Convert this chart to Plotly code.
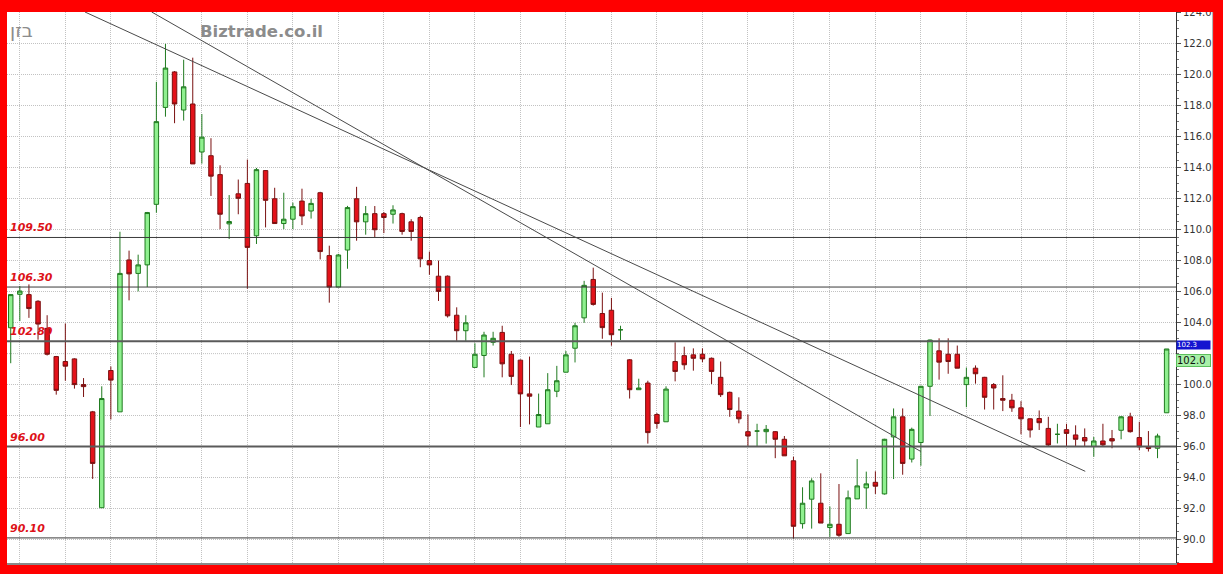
import plotly.graph_objects as go

# Daily bars, index 0 = oldest
idx = list(range(128))
opens = [103.67, 105.83, 105.81, 105.38, 103.63, 101.81, 101.49, 101.66, 100.00, 98.24,
         92.05, 100.91, 98.24, 108.05, 107.18, 107.73, 111.64, 117.90, 120.19, 117.73,
         118.12, 115.02, 114.78, 113.56, 110.38, 112.32, 112.99, 109.61, 113.82, 112.00,
         110.40, 110.68, 111.85, 111.21, 112.39, 108.33, 106.30, 108.69, 112.00, 110.51,
         111.04, 111.04, 111.00, 111.04, 110.51, 110.79, 108.01, 107.00, 107.00, 104.48,
         103.48, 101.11, 101.88, 102.73, 103.37, 101.96, 101.58, 99.40, 97.26, 97.47,
         99.57, 100.80, 102.35, 104.31, 106.79, 104.59, 104.80, 103.54, 101.60, 99.67,
         100.10, 98.07, 97.60, 101.49, 101.87, 101.92, 101.96, 101.70, 100.47, 99.50,
         98.29, 96.96, 97.00, 96.96, 96.96, 96.47, 95.08, 91.02, 92.60, 92.34,
         90.77, 90.98, 90.38, 92.62, 93.33, 93.69, 92.94, 96.62, 97.92, 95.19,
         96.26, 99.89, 102.18, 101.96, 101.96, 100.00, 101.06, 100.47, 100.00, 99.10,
         98.99, 98.50, 97.79, 97.81, 97.17, 96.79, 97.09, 96.75, 96.58, 96.00,
         96.36, 96.51, 97.05, 97.92, 96.58, 95.98, 95.89, 98.18]
highs = [105.85, 106.36, 106.47, 105.45, 104.48, 101.85, 103.95, 101.70, 100.42, 98.30,
         99.89, 101.17, 109.87, 108.65, 108.39, 111.15, 119.55, 122.00, 120.25, 120.98,
         121.11, 117.47, 115.91, 114.16, 112.24, 113.24, 114.53, 113.99, 113.85, 112.71,
         112.39, 111.75, 112.65, 112.00, 112.45, 108.97, 108.44, 111.54, 112.77, 111.53,
         111.53, 111.15, 111.58, 111.10, 110.68, 110.90, 108.59, 108.01, 107.05, 104.99,
         104.48, 102.67, 103.41, 103.41, 103.80, 102.17, 101.62, 101.81, 99.42, 100.74,
         101.21, 102.17, 103.99, 106.70, 107.55, 105.94, 105.60, 103.80, 101.65, 100.38,
         100.25, 98.17, 99.89, 102.73, 102.45, 102.34, 102.34, 101.75, 101.49, 99.55,
         99.18, 98.07, 97.47, 97.39, 97.00, 96.68, 95.34, 93.37, 93.95, 94.27,
         92.13, 93.58, 93.16, 95.19, 94.38, 94.40, 96.50, 98.46, 98.46, 97.22,
         99.92, 102.90, 102.99, 102.99, 102.52, 101.10, 101.24, 100.50, 100.10, 100.60,
         99.40, 98.93, 97.82, 98.33, 97.92, 97.47, 97.47, 97.37, 97.17, 96.62,
         97.47, 97.07, 97.97, 98.18, 97.60, 97.00, 96.83, 102.30]
lows = [101.38, 104.10, 104.31, 102.90, 101.88, 99.35, 100.25, 99.74, 99.20, 93.91,
        92.05, 97.75, 98.24, 105.44, 106.02, 106.30, 111.10, 117.30, 116.88, 117.05,
        114.25, 114.27, 112.18, 110.04, 109.40, 111.00, 106.19, 109.08, 110.15, 110.40,
        110.04, 110.04, 110.30, 110.72, 108.08, 105.29, 106.30, 107.48, 109.29, 109.68,
        109.50, 109.78, 110.40, 109.68, 109.29, 107.58, 107.09, 105.40, 104.33, 102.82,
        102.82, 101.11, 100.47, 102.52, 100.47, 99.97, 97.26, 97.43, 97.26, 97.47,
        99.19, 100.80, 101.43, 103.99, 105.10, 102.96, 102.51, 102.88, 99.10, 99.67,
        96.19, 97.16, 97.60, 100.21, 100.96, 100.90, 101.45, 100.04, 99.20, 97.92,
        97.50, 95.98, 96.00, 96.19, 95.25, 95.40, 90.06, 90.70, 90.70, 91.06,
        90.17, 90.17, 90.38, 92.62, 91.98, 92.94, 92.90, 93.90, 94.18, 94.97,
        94.76, 97.97, 100.32, 100.70, 101.06, 98.54, 100.06, 98.39, 98.39, 98.29,
        98.24, 96.79, 96.58, 97.07, 95.98, 96.20, 95.98, 95.98, 95.98, 95.34,
        96.02, 95.89, 96.47, 96.90, 95.77, 95.68, 95.25, 98.18]
closes = [105.81, 106.04, 104.91, 103.91, 101.96, 99.63, 101.19, 100.00, 99.87, 94.91,
          99.10, 100.29, 107.18, 107.15, 107.73, 111.11, 116.98, 120.44, 118.12, 119.23,
          114.25, 115.98, 113.46, 111.00, 110.53, 112.03, 108.86, 113.88, 111.90, 110.40,
          110.68, 111.49, 110.89, 111.70, 108.59, 106.30, 108.37, 111.43, 110.51, 111.04,
          110.00, 110.79, 111.28, 109.89, 109.89, 108.12, 107.73, 106.02, 104.44, 103.48,
          103.99, 101.96, 103.20, 102.99, 101.34, 100.53, 99.40, 99.25, 98.07, 99.67,
          100.25, 101.92, 103.80, 106.41, 105.18, 103.68, 103.22, 103.54, 99.67, 99.78,
          96.90, 97.49, 99.71, 100.85, 101.28, 101.70, 101.66, 100.85, 99.35, 98.39,
          97.79, 96.68, 97.00, 97.11, 96.47, 95.40, 90.85, 92.34, 93.78, 91.06,
          90.98, 90.27, 92.69, 93.46, 93.59, 93.44, 96.47, 97.92, 94.91, 97.11,
          99.89, 102.88, 101.45, 101.49, 101.06, 100.47, 100.70, 99.18, 99.78, 98.99,
          98.50, 97.79, 97.07, 97.54, 96.10, 96.79, 96.85, 96.47, 96.36, 96.36,
          96.11, 96.36, 97.92, 96.96, 95.98, 95.87, 96.68, 102.30]

# Horizontal support / resistance levels and their labels
levels = [109.50, 106.30, 102.80, 96.00, 90.10]
level_labels = ["109.50", "106.30", "102.80", "96.00", "90.10"]
level_widths = [1, 1, 2, 2, 1]

# Two descending trend lines: (start index, start price, end index, end price)
trend_lines = [(8.16, 124.06, 118.06, 94.40),
               (15.49, 124.06, 100.0, 95.68)]

# Weekly vertical grid positions (bar index)
week_ticks = [1, 6, 11, 16, 21, 26, 31, 36, 41, 46, 51, 56, 61, 66, 71, 76, 81, 86,
              90, 95, 100, 105, 111, 116, 119, 124]

# Price axis labels (102 sits under the last-price tags)
price_ticks = [90, 92, 94, 96, 98, 100, 104, 106, 108, 110, 112, 114, 116, 118, 120,
               122, 124]

last_tag = "102.0"
prev_tag = "102.3"

fig = go.Figure()
fig.add_trace(go.Candlestick(
    x=idx, open=opens, high=highs, low=lows, close=closes,
    increasing=dict(fillcolor="#8ff08f", line=dict(color="#1f7a1f", width=1)),
    decreasing=dict(fillcolor="#e3121a", line=dict(color="#7a1010", width=1)),
    whiskerwidth=0, hoverinfo="skip", showlegend=False,
))

shapes = []
for lv, w in zip(levels, level_widths):
    shapes.append(dict(type="line", xref="paper", x0=0, x1=1, yref="y", y0=lv, y1=lv,
                       line=dict(color="#3a3a3a" if w == 1 else "#5a5a5a", width=w)))
for x0, y0, x1, y1 in trend_lines:
    shapes.append(dict(type="line", xref="x", yref="y", x0=x0, y0=y0, x1=x1, y1=y1,
                       line=dict(color="#4a4a4a", width=1)))
# white strip behind the price axis, red frame over the top edge
shapes.append(dict(type="rect", xref="paper", yref="paper", x0=1, x1=1.0317, y0=0, y1=1,
                   fillcolor="white", line=dict(width=0), layer="below"))
shapes.append(dict(type="line", xref="paper", yref="paper", x0=1.0312, x1=1.0312, y0=0, y1=1,
                   line=dict(color="#b0b0b0", width=1)))
shapes.append(dict(type="rect", xref="paper", yref="paper", x0=-0.01, x1=1.05, y0=1.0, y1=1.03,
                   fillcolor="#ff0000", line=dict(width=0), layer="above"))
# grid line at 102 (no label on the axis there)
shapes.append(dict(type="line", xref="paper", x0=0, x1=1, yref="y", y0=102, y1=102,
                   line=dict(color="#c2c2c2", width=1, dash="1px,1px"), layer="below"))

annotations = []
for lv, txt in zip(levels, level_labels):
    annotations.append(dict(xref="paper", x=0.0005, xanchor="left", yref="y", y=lv,
                            yanchor="bottom", yshift=1, text=txt, showarrow=False,
                            font=dict(family="DejaVu Sans", size=11, color="#dd1118",
                                      weight="bold", style="italic")))
annotations.append(dict(xref="paper", x=0.163, xanchor="left", yref="paper", y=0.965,
                        yanchor="middle", text="Biztrade.co.il", showarrow=False,
                        font=dict(family="DejaVu Sans", size=16.5, color="#8c8c8c",
                                  weight="bold")))
annotations.append(dict(xref="paper", x=0.001, xanchor="left", yref="paper", y=0.968,
                        yanchor="middle", text="בזן", showarrow=False,
                        font=dict(family="DejaVu Sans", size=19, color="#8c8c8c")))
annotations.append(dict(xref="paper", x=1.0, xanchor="left", yref="y", y=102.55,
                        yanchor="middle", text=prev_tag, showarrow=False, width=33,
                        align="left", bgcolor="#1414d0", borderpad=0,
                        font=dict(family="DejaVu Sans", size=7, color="white")))
annotations.append(dict(xref="paper", x=1.0, xanchor="left", yref="y", y=101.55,
                        yanchor="middle", text=last_tag, showarrow=False, width=33,
                        align="left", bgcolor="#a8f0a8", bordercolor="#5cbf5c",
                        borderwidth=1, borderpad=0,
                        font=dict(family="DejaVu Sans", size=10, color="#111")))

fig.update_layout(
    width=1223, height=574,
    margin=dict(l=7, r=47, t=8, b=11),
    paper_bgcolor="#ff0000", plot_bgcolor="white",
    showlegend=False,
    shapes=shapes, annotations=annotations,
    xaxis=dict(range=[-0.41, 128.03], rangeslider=dict(visible=False),
               tickmode="array", tickvals=week_ticks, showticklabels=False,
               showgrid=True, gridcolor="#c2c2c2", griddash="1px,1px", gridwidth=1,
               showline=True, linecolor="#8a8a8a", linewidth=2, zeroline=False,
               ticks="", fixedrange=True),
    yaxis=dict(range=[88.48, 124.06], side="right", tickmode="array",
               tickvals=price_ticks, tickformat=".1f", showgrid=True,
               gridcolor="#c2c2c2", griddash="1px,1px",
               showline=True, linecolor="#333333", linewidth=1, zeroline=False,
               ticks="outside", ticklen=4, tickcolor="#555",
               minor=dict(tickmode="linear", tick0=0, dtick=0.5, ticks="outside",
                          ticklen=2, tickcolor="#777", showgrid=False),
               tickfont=dict(family="DejaVu Sans", size=10, color="#333"),
               fixedrange=True),
)

fig.write_html("out.html")
